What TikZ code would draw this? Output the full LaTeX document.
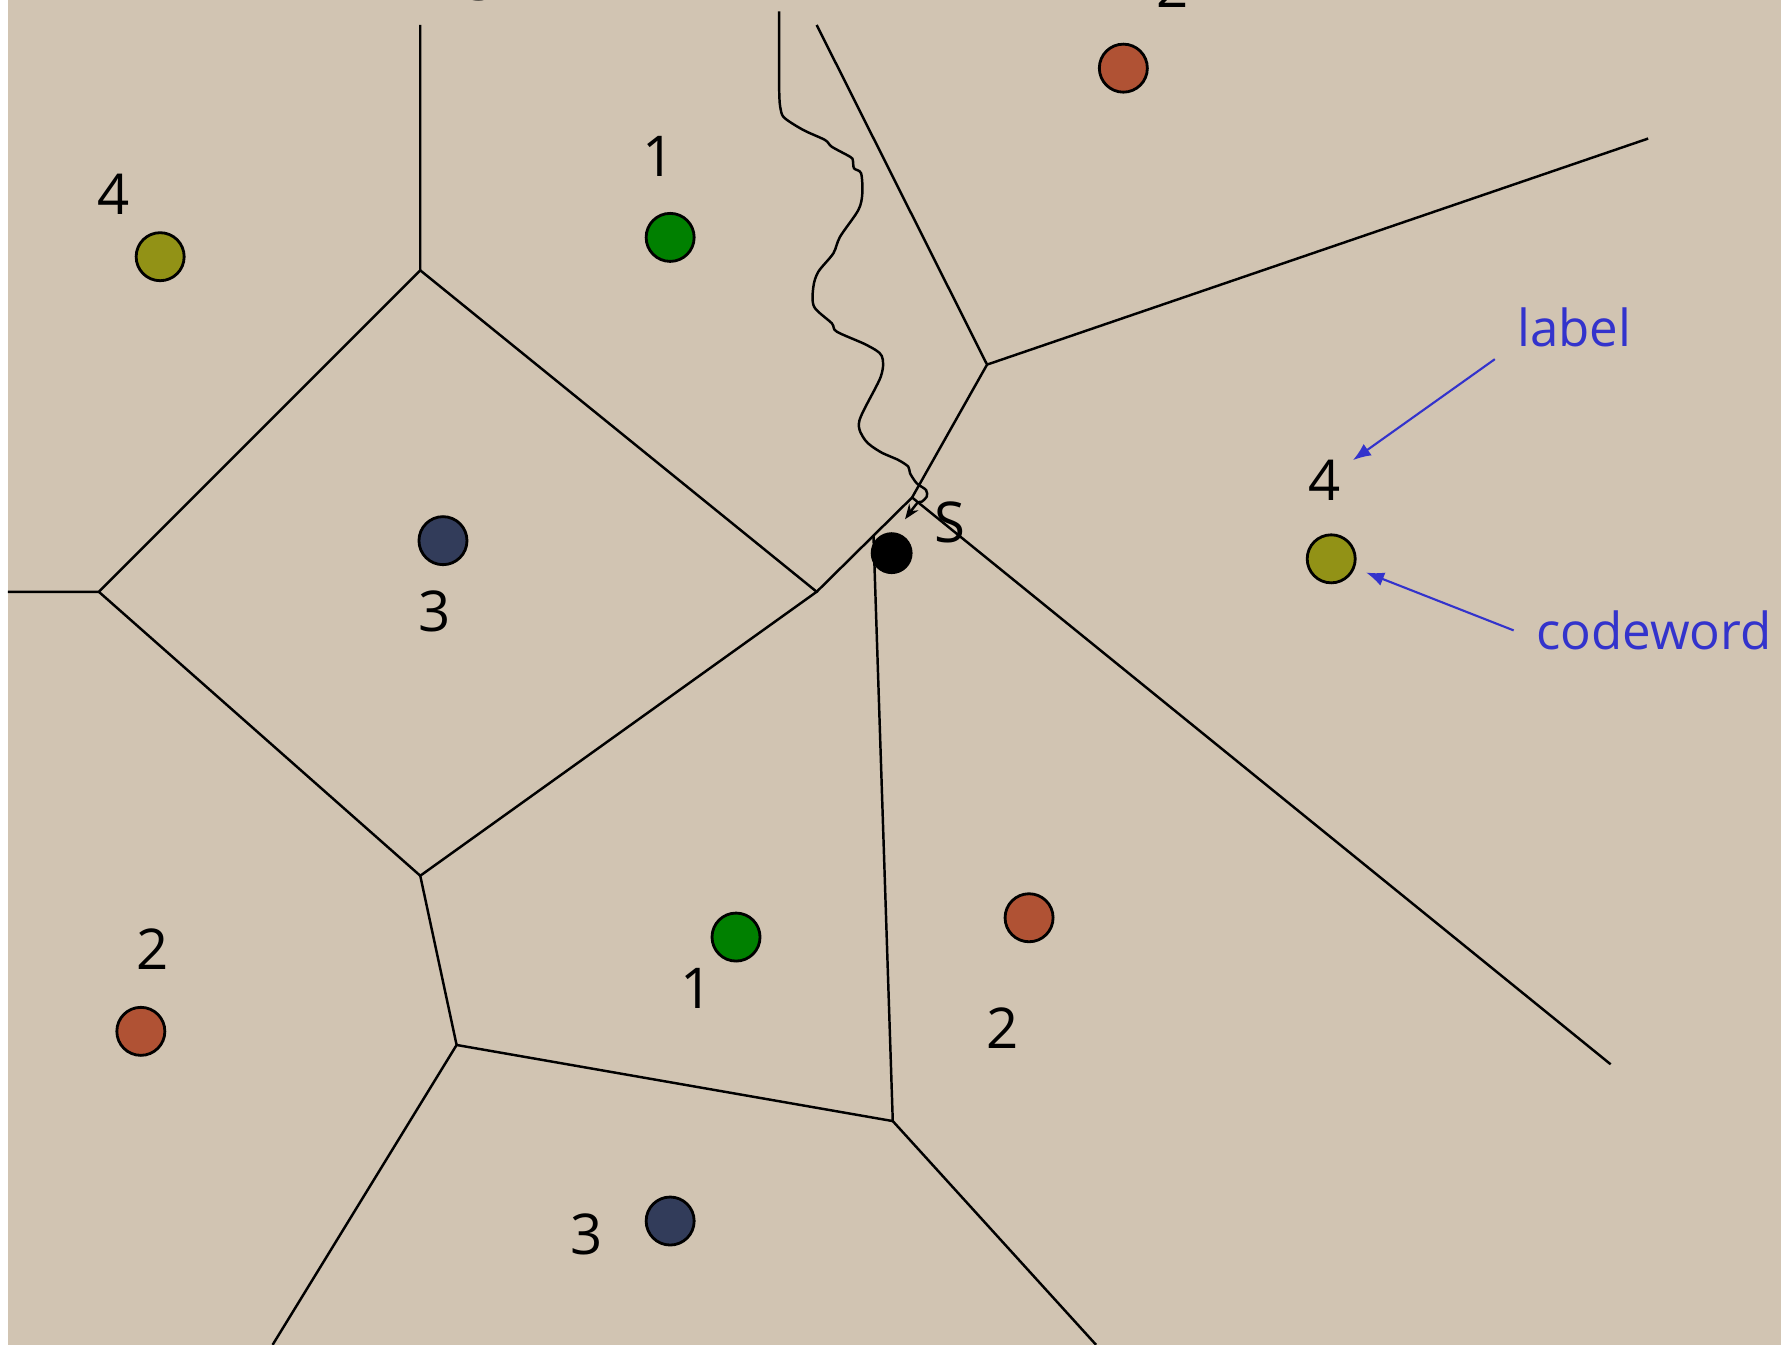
\documentclass[tikz,border=0pt]{standalone}
\usepackage{fontspec}
\setmainfont{Open Sans}
\usetikzlibrary{arrows.meta}
\definecolor{Sand}{HTML}{D1C4B2}
\definecolor{Rust}{HTML}{B05234}
\definecolor{Leaf}{HTML}{008000}
\definecolor{Olive}{HTML}{929216}
\definecolor{Navy}{HTML}{323C5A}
\definecolor{Ink}{HTML}{3333CC}
\tikzset{
  dot/.style={circle,draw=black,line width=.8pt,minimum size=.48cm,inner sep=0pt},
  tag/.style={font=\fontsize{16}{16}\selectfont},
  note/.style={text=Ink,font=\fontsize{14.5}{14.5}\selectfont},
  callout/.style={-{Latex[length=1.8mm,width=1.4mm]},Ink,line width=.6pt},
}
\begin{document}
\begin{tikzpicture}[x=.011358cm,y=-.011358cm]
        \useasboundingbox(0,0)rectangle(1568,1184);
        \clip(0,0)rectangle(1568,1184);
        \fill[white](0,0)rectangle(7,1184);
        \fill[Sand](7,0)rectangle(1568,1184);
        % cell edges
        \begin{scope}[line width=.7pt]
        \draw(370,22)--(370,238)--(87,521)--(7,521);
        \draw(87,521)--(370,771)--(719,521)--(370,238);
        \draw(719,521)--(803,438)--(869,321)--(719,22);
        \draw(869,321)--(1451,122);
        \draw(803,438)--(1418,937);
        \draw(769,471)--(786,987)--(402,920)--(370,771);
        \draw(402,920)--(240,1184);
        \draw(786,987)--(965,1184);
        \end{scope}
        % border
        \draw[line width=.7pt,-{Stealth[length=1.5mm]}]plot[smooth,tension=.5]coordinates{
          (686,10)(686,79)(687.4,96.8)(691.1,104.2)(707.3,114.5)(726.4,123.3)(732.3,129.2)
          (748.4,138)(750.8,140.9)(751.9,148.2)(758.1,152.6)(759.2,170.2)(755.7,184.9)
          (739.6,208.4)(733.7,223)(720.5,239.2)(716.1,252.4)(716.7,270)(732.3,284.6)
          (736.7,292)(763.1,303.8)(776.3,313.4)(775.4,331.7)(756.6,370.4)(761.6,387.4)
          (774.8,397.7)(790.9,405)(799.7,410.9)(801.2,416.7)(807.1,425.5)(815.3,431.4)
          (815.9,437.3)(811.5,441.7)(807.4,443.1)(796.8,457.2)};
        % codewords
        \node[dot,fill=Rust](r2top)at(989,60){};
        \node[dot,fill=Leaf](g1top)at(590,209){};
        \node[dot,fill=Olive](o4left)at(141,226){};
        \node[dot,fill=Navy](n3mid)at(390,476){};
        \node[dot,fill=Olive](o4right)at(1172,492){};
        \node[dot,fill=Rust](r2mid)at(906,808){};
        \node[dot,fill=Leaf](g1low)at(648,825){};
        \node[dot,fill=Rust](r2left)at(124,908){};
        \node[dot,fill=Navy](n3low)at(590,1075){};
        \node[dot,fill=black,minimum size=.39cm](src)at(785,487){};
        % labels
        \node[tag](t3top)at(424,-17){3};
        \node[tag](t2top)at(1032,-11){2};
        \node[tag](t1top)at(580,138){1};
        \node[tag](t4left)at(100,171){4};
        \node[tag](t3mid)at(383,538){3};
        \node[tag](t4right)at(1166,423){4};
        \node[tag](tsrc)at(836,460){S};
        \node[tag](t2mid)at(883,905){2};
        \node[tag](t1low)at(613,870){1};
        \node[tag](t2left)at(134,836){2};
        \node[tag](t3low)at(516,1087){3};
        % notes
        \node[note](lbl)at(1386,288){label};
        \node[note](cw)at(1456,555){codeword};
        \draw[callout]([xshift=-1mm]lbl.south west)--(t4right);
        \draw[callout,shorten >=1.2mm]([xshift=-1mm]cw.west)--(o4right);
      \end{tikzpicture}
\end{document}
